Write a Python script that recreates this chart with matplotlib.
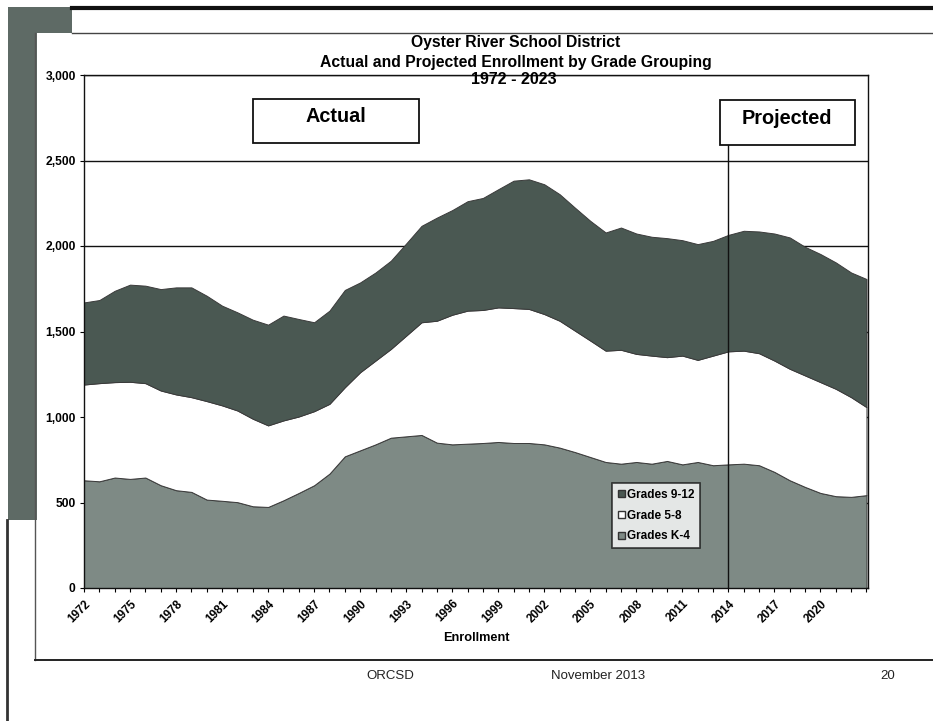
import matplotlib
matplotlib.use("Agg")
import matplotlib.pyplot as plt
from matplotlib.patches import Rectangle, Patch
from matplotlib.ticker import FuncFormatter

plt.rcParams['font.family'] = ['Liberation Sans', 'DejaVu Sans']

# ---------------- data ----------------
years = list(range(1972, 2024))
label_years = list(range(1972, 2023, 3))

grades_k4 = [630, 624, 646, 638, 646, 601, 572, 562, 517, 510, 502, 478, 474, 513, 556, 601,
             669, 770, 805, 840, 879, 887, 895, 850, 840, 844, 848, 854, 848, 848, 840, 821,
             795, 766, 737, 727, 737, 727, 743, 723, 737, 718, 723, 727, 718, 679, 630, 591,
             556, 537, 533, 543]
grades_58 = [560, 574, 558, 568, 552, 554, 560, 554, 576, 558, 536, 512, 477, 467, 447, 433,
             408, 404, 457, 490, 519, 589, 659, 713, 758, 778, 778, 787, 789, 784, 762, 742,
             710, 681, 651, 666, 632, 632, 607, 636, 597, 641, 661, 661, 655, 651, 652, 652,
             648, 628, 583, 515]
grades_912 = [480, 486, 534, 568, 570, 593, 626, 642, 616, 583, 574, 579, 589, 613, 570, 520,
              545, 569, 525, 515, 516, 539, 564, 603, 612, 640, 655, 691, 745, 758, 759, 740,
              719, 700, 691, 715, 704, 695, 696, 675, 677, 671, 681, 701, 712, 743, 768, 752,
              749, 739, 729, 749]

series_labels = ["Grades 9-12", "Grade 5-8", "Grades K-4"]
first_projected_year = 2014

title_lines = ["Oyster River School District",
               "Actual and Projected Enrollment by Grade Grouping"]
subtitle = "1972 - 2023"

# ---------------- style ----------------
c_k4 = "#7e8a85"
c_58 = "#ffffff"
c_912 = "#4a5852"
c_page = "#5e6a65"

W, H = 933, 721
fig = plt.figure(figsize=(W / 100, H / 100), dpi=100)
fig.patch.set_facecolor("white")

# page decorations (pixel coordinates)
bg = fig.add_axes([0, 0, 1, 1], zorder=0)
bg.set_xlim(0, W)
bg.set_ylim(H, 0)
bg.axis("off")
bg.add_patch(Rectangle((8, 7), 29, 513, color=c_page, lw=0))
bg.add_patch(Rectangle((8, 7), 64, 26, color=c_page, lw=0))
bg.plot([72, W], [8, 8], color="#111111", lw=3)
bg.plot([72, W], [33, 33], color="#444444", lw=1)
bg.plot([35, 35], [33, 660], color="#555555", lw=1)
bg.plot([35, W], [660, 660], color="#222222", lw=1.4)
bg.plot([7, 7], [520, H], color="#333333", lw=2)
bg.text(390, 676, "ORCSD", ha="center", va="center", fontsize=9.5, color="#222222")
bg.text(598, 676, "November 2013", ha="center", va="center", fontsize=9.5, color="#222222")
bg.text(888, 676, "20", ha="center", va="center", fontsize=9.5, color="#222222")

# chart
ax = fig.add_axes([84 / W, 1 - 588 / H, 784 / W, 513 / H], zorder=1)
ax.set_facecolor("white")
ax.patch.set_alpha(0)
idx = list(range(len(years)))
ax.stackplot(idx, grades_k4, grades_58, grades_912,
             colors=[c_k4, c_58, c_912], edgecolor="#3a3a3a", linewidth=0.7, zorder=2)

ax.set_xlim(0, len(years) - 1 + 0.1)
ax.set_ylim(0, 3000)
ax.set_yticks(range(0, 3001, 500))
ax.yaxis.set_major_formatter(FuncFormatter(lambda v, p: f"{int(v):,}"))
ax.grid(axis="y", color="#111111", lw=1)
ax.set_axisbelow(True)

ax.set_xticks(idx, minor=True)
ax.set_xticks([years.index(y) for y in label_years])
ax.set_xticklabels([str(y) for y in label_years], rotation=45, ha="right", va="top",
                   rotation_mode="anchor", fontsize=8.5, fontweight="bold")
ax.tick_params(axis="x", which="both", direction="out", length=3, width=0.8, pad=4)
ax.tick_params(axis="y", direction="out", length=3, width=0.8, labelsize=8.7, pad=3)
for lbl in ax.get_yticklabels():
    lbl.set_fontweight("bold")
ax.set_xlabel("Enrollment", fontsize=9.2, fontweight="bold", labelpad=5)
for s in ax.spines.values():
    s.set_color("#111111")
    s.set_linewidth(1)

# titles (figure pixel positions)
bg.text(516, 43, title_lines[0], ha="center", va="center", fontsize=11.3, fontweight="bold",
        zorder=5)
bg.text(516, 62, title_lines[1], ha="center", va="center", fontsize=11.3, fontweight="bold",
        zorder=5)
fig.text(514 / W, 1 - 80 / H, subtitle, ha="center", va="center", fontsize=11.5,
         fontweight="bold", zorder=5)

# projected divider
xp = years.index(first_projected_year)
ax.axvline(xp, ymin=0, ymax=0.8635, color="#111111", lw=1, zorder=3)

# annotation boxes
ax.add_patch(Rectangle((0.2156, 0.8674), 0.2117, 0.0858, transform=ax.transAxes,
                       facecolor="white", edgecolor="#111111", lw=1.3, zorder=4))
ax.text(0.3214, 0.919, "Actual", transform=ax.transAxes, ha="center", va="center",
        fontsize=14.3, fontweight="bold", zorder=5)
ax.add_patch(Rectangle((0.8112, 0.8635), 0.1722, 0.0877, transform=ax.transAxes,
                       facecolor="white", edgecolor="#111111", lw=1.3, zorder=4))
ax.text(0.8967, 0.916, "Projected", transform=ax.transAxes, ha="center", va="center",
        fontsize=14.3, fontweight="bold", zorder=5)

handles = [Patch(facecolor=c_912, edgecolor="#333333"),
           Patch(facecolor=c_58, edgecolor="#333333"),
           Patch(facecolor=c_k4, edgecolor="#333333")]
leg = ax.legend(handles, series_labels, loc="upper left", bbox_to_anchor=(0.673, 0.205),
                borderaxespad=0, frameon=True, fancybox=False, edgecolor="#111111",
                handlelength=0.6, handleheight=0.6, handletextpad=0.2, labelspacing=0.75,
                borderpad=0.5, prop={"size": 8.5, "weight": "bold"})
leg.get_frame().set_linewidth(1.2)
leg.set_zorder(6)

fig.savefig("out.png", dpi=100)
